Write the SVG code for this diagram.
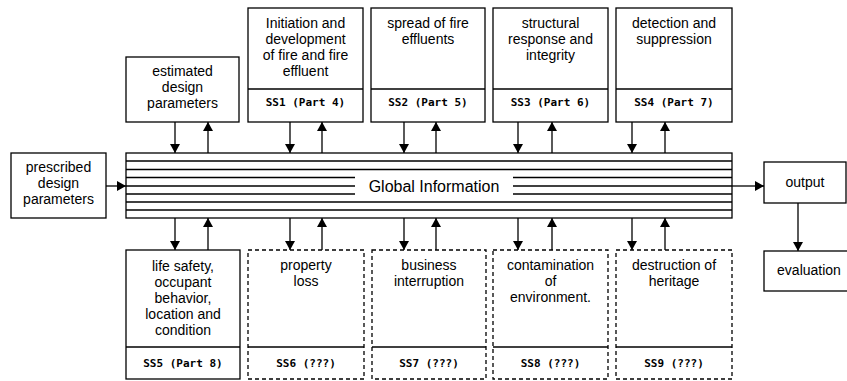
<svg xmlns="http://www.w3.org/2000/svg" width="847" height="381" viewBox="0 0 847 381">
<style>
.box{fill:#fff;stroke:#000;stroke-width:1.3}
.dash{fill:#fff;stroke:#000;stroke-width:1.3;stroke-dasharray:4 3}
.div{stroke:#000;stroke-width:1.3}
.t{font-family:"Liberation Sans",Arial,sans-serif;font-size:14px;text-anchor:middle;fill:#000}
.m{font-family:"DejaVu Sans Mono","Liberation Mono",monospace;font-size:11px;font-weight:bold;text-anchor:middle;fill:#000}
.g{font-family:"Liberation Sans",Arial,sans-serif;font-size:16px;text-anchor:middle;fill:#000}
.bl{stroke:#000;stroke-width:1.6}
.c{stroke:#000;stroke-width:1.3;fill:none;marker-end:url(#ah)}
</style>
<defs>
<marker id="ah" markerWidth="9" markerHeight="10" refX="9" refY="5" orient="auto" markerUnits="userSpaceOnUse">
<path d="M0,0 L9,5 L0,10 Z" fill="#000"/>
</marker>
</defs>
<rect width="847" height="381" fill="#fff"/>

<g id="global">
<rect class="box" x="126" y="153" width="606" height="65"/>
<line class="bl" x1="126" y1="161" x2="732" y2="161"/>
<line class="bl" x1="126" y1="169.5" x2="732" y2="169.5"/>
<line class="bl" x1="126" y1="177.5" x2="355" y2="177.5"/>
<line class="bl" x1="513" y1="177.5" x2="732" y2="177.5"/>
<line class="bl" x1="126" y1="186" x2="355" y2="186"/>
<line class="bl" x1="513" y1="186" x2="732" y2="186"/>
<line class="bl" x1="126" y1="194" x2="355" y2="194"/>
<line class="bl" x1="513" y1="194" x2="732" y2="194"/>
<line class="bl" x1="126" y1="202" x2="732" y2="202"/>
<line class="bl" x1="126" y1="210" x2="732" y2="210"/>
<text class="g" x="434" y="192">Global Information</text>
</g>

<g id="prescribed">
<rect class="box" x="11" y="153" width="95" height="65"/>
<text class="t" x="58.5" y="172">prescribed</text>
<text class="t" x="58.5" y="188">design</text>
<text class="t" x="58.5" y="204">parameters</text>
</g>

<g id="estimated">
<rect class="box" x="126" y="57" width="113" height="65"/>
<text class="t" x="182.5" y="76">estimated</text>
<text class="t" x="182.5" y="92">design</text>
<text class="t" x="182.5" y="108">parameters</text>
</g>

<g id="ss1">
<rect class="box" x="248" y="8" width="115" height="114"/>
<line class="div" x1="248" y1="89" x2="363" y2="89"/>
<text class="t" x="305.5" y="28">Initiation and</text>
<text class="t" x="305.5" y="44">development</text>
<text class="t" x="305.5" y="60">of fire and fire</text>
<text class="t" x="305.5" y="76">effluent</text>
<text class="m" x="305.5" y="106">SS1 (Part 4)</text>
</g>

<g id="ss2">
<rect class="box" x="371" y="8" width="114" height="114"/>
<line class="div" x1="371" y1="89" x2="485" y2="89"/>
<text class="t" x="428" y="28">spread of fire</text>
<text class="t" x="428" y="44">effluents</text>
<text class="m" x="428" y="106">SS2 (Part 5)</text>
</g>

<g id="ss3">
<rect class="box" x="493" y="8" width="115" height="114"/>
<line class="div" x1="493" y1="89" x2="608" y2="89"/>
<text class="t" x="550.5" y="28">structural</text>
<text class="t" x="550.5" y="44">response and</text>
<text class="t" x="550.5" y="60">integrity</text>
<text class="m" x="550.5" y="106">SS3 (Part 6)</text>
</g>

<g id="ss4">
<rect class="box" x="616" y="8" width="116" height="114"/>
<line class="div" x1="616" y1="89" x2="732" y2="89"/>
<text class="t" x="674" y="28">detection and</text>
<text class="t" x="674" y="44">suppression</text>
<text class="m" x="674" y="106">SS4 (Part 7)</text>
</g>

<g id="ss5">
<rect class="box" x="126" y="250" width="114" height="129"/>
<line class="div" x1="126" y1="347" x2="240" y2="347"/>
<text class="t" x="183" y="271">life safety,</text>
<text class="t" x="183" y="287">occupant</text>
<text class="t" x="183" y="303">behavior,</text>
<text class="t" x="183" y="319">location and</text>
<text class="t" x="183" y="335">condition</text>
<text class="m" x="183" y="367">SS5 (Part 8)</text>
</g>

<g id="ss6">
<rect class="dash" x="248" y="250" width="116" height="129"/>
<line class="div" x1="248" y1="347" x2="364" y2="347"/>
<text class="t" x="306" y="270">property</text>
<text class="t" x="306" y="286">loss</text>
<text class="m" x="306" y="367">SS6 (???)</text>
</g>

<g id="ss7">
<rect class="dash" x="372" y="250" width="114" height="129"/>
<line class="div" x1="372" y1="347" x2="486" y2="347"/>
<text class="t" x="429" y="270">business</text>
<text class="t" x="429" y="286">interruption</text>
<text class="m" x="429" y="367">SS7 (???)</text>
</g>

<g id="ss8">
<rect class="dash" x="493" y="250" width="115" height="129"/>
<line class="div" x1="493" y1="347" x2="608" y2="347"/>
<text class="t" x="550.5" y="270">contamination</text>
<text class="t" x="550.5" y="286">of</text>
<text class="t" x="550.5" y="302">environment.</text>
<text class="m" x="550.5" y="367">SS8 (???)</text>
</g>

<g id="ss9">
<rect class="dash" x="616" y="250" width="116" height="129"/>
<line class="div" x1="616" y1="347" x2="732" y2="347"/>
<text class="t" x="674" y="270">destruction of</text>
<text class="t" x="674" y="286">heritage</text>
<text class="m" x="674" y="367">SS9 (???)</text>
</g>

<g id="output">
<rect class="box" x="764" y="162" width="82" height="41"/>
<text class="t" x="805" y="187">output</text>
</g>

<g id="evaluation">
<rect class="box" x="764" y="251" width="85" height="40"/>
<text class="t" x="809" y="275">evaluation</text>
</g>

<g id="connectors">
<line class="c" x1="106" y1="186" x2="126" y2="186"/>
<line class="c" x1="732" y1="186" x2="764" y2="186"/>
<line class="c" x1="798" y1="203" x2="798" y2="251"/>

<line class="c" x1="175" y1="122" x2="175" y2="153"/>
<line class="c" x1="208" y1="153" x2="208" y2="122"/>
<line class="c" x1="290" y1="122" x2="290" y2="153"/>
<line class="c" x1="322" y1="153" x2="322" y2="122"/>
<line class="c" x1="404" y1="122" x2="404" y2="153"/>
<line class="c" x1="436" y1="153" x2="436" y2="122"/>
<line class="c" x1="518" y1="122" x2="518" y2="153"/>
<line class="c" x1="552" y1="153" x2="552" y2="122"/>
<line class="c" x1="632" y1="122" x2="632" y2="153"/>
<line class="c" x1="665" y1="153" x2="665" y2="122"/>

<line class="c" x1="175" y1="218" x2="175" y2="250"/>
<line class="c" x1="208" y1="250" x2="208" y2="218"/>
<line class="c" x1="290" y1="218" x2="290" y2="250"/>
<line class="c" x1="322" y1="250" x2="322" y2="218"/>
<line class="c" x1="404" y1="218" x2="404" y2="250"/>
<line class="c" x1="436" y1="250" x2="436" y2="218"/>
<line class="c" x1="518" y1="218" x2="518" y2="250"/>
<line class="c" x1="552" y1="250" x2="552" y2="218"/>
<line class="c" x1="632" y1="218" x2="632" y2="250"/>
<line class="c" x1="665" y1="250" x2="665" y2="218"/>
</g>
</svg>
